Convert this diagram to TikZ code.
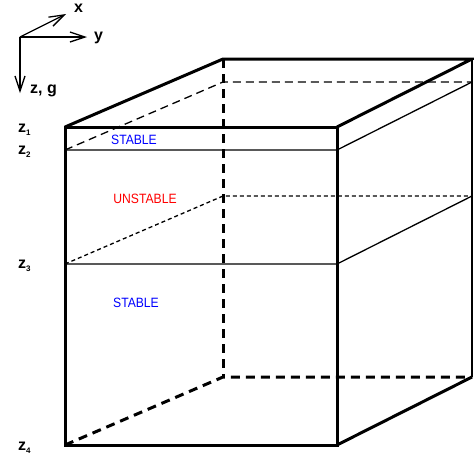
\documentclass[tikz,border=0pt]{standalone}
\usepackage{fontspec}
\setmainfont{Liberation Sans}
\newfontfamily\narrowsans[FakeStretch=0.9]{Liberation Sans}
\usetikzlibrary{arrows.meta,positioning}
\newcommand{\zlab}[1]{z\raisebox{-3.5pt}{\fontsize{8}{8}\selectfont #1}}

\begin{document}
\begin{tikzpicture}[x=1pt,y=-1pt,>={Straight Barb[length=15pt,width=10pt]},
  edge/.style={line width=3pt},hidden/.style={line width=3pt,dash pattern=on 9pt off 6pt},
  layer/.style={line width=1.3pt},every node/.style={inner sep=0pt,font=\fontsize{16}{16}\selectfont\bfseries},
  zone/.style={font=\fontsize{13.5}{13.5}\selectfont\narrowsans}]
\useasboundingbox (0,0) rectangle (474,461);
% axes
\coordinate (o) at (20,37);\coordinate (ax) at (66,14);\coordinate (ay) at (87,37);\coordinate (az) at (20,93);
\draw[line width=1.3pt,->] (o)--(ax);\draw[line width=1.3pt,->] (o)--(ay);\draw[line width=1.3pt,->] (o)--(az);
\node[anchor=base west] (lx) at (74,12.5) {x};\node[anchor=base west] (ly) at (94,40) {y};\node[anchor=base west] (lz) at (30,93) {z, g};
% box corners
\coordinate (A) at (65,127);\coordinate (B) at (337,127);\coordinate (C) at (337,445);\coordinate (D) at (65,445);
\coordinate (E) at (223,59);\coordinate (F) at (472,59);\coordinate (G) at (472,377);\coordinate (H) at (223,377);
% layer boundaries
\coordinate (z2a) at (65,150);\coordinate (z2b) at (337,150);\coordinate (z2c) at (472,82);\coordinate (z2d) at (223,82);
\coordinate (z3a) at (65,264);\coordinate (z3b) at (337,264);\coordinate (z3c) at (472,196);\coordinate (z3d) at (223,196);
\draw[layer] (z2a)--(z2b)--(z2c);\draw[layer,dash pattern=on 8pt off 5pt] (z2a)--(z2d)--(z2c);
\draw[layer] (z3a)--(z3b)--(z3c);\draw[layer,dash pattern=on 4pt off 3pt] (z3a)--(z3d)--(z3c);
% edges
\draw[hidden] (E)--(H);\draw[hidden] (D)--(H)--(G);
\draw[line width=1.3pt] (F)--(G);
\draw[edge] (A)--(E)--(F)--(B);\draw[edge] (C)--(G);
\draw[edge] (A)--(B)--(C)--(D)--cycle;
% labels
\node[anchor=base west] (z1) at (18,132) {\zlab{1}};\node[anchor=base west] (z2) at (18,154) {\zlab{2}};
\node[anchor=base west] (z3) at (18,268) {\zlab{3}};\node[anchor=base west] (z4) at (18,450) {\zlab{4}};
\node[zone,text=blue] (s1) at (134,140) {STABLE};\node[zone,text=red] (u) at (145,199) {UNSTABLE};
\node[zone,text=blue] (s2) at (136,302.5) {STABLE};
\end{tikzpicture}
\end{document}
